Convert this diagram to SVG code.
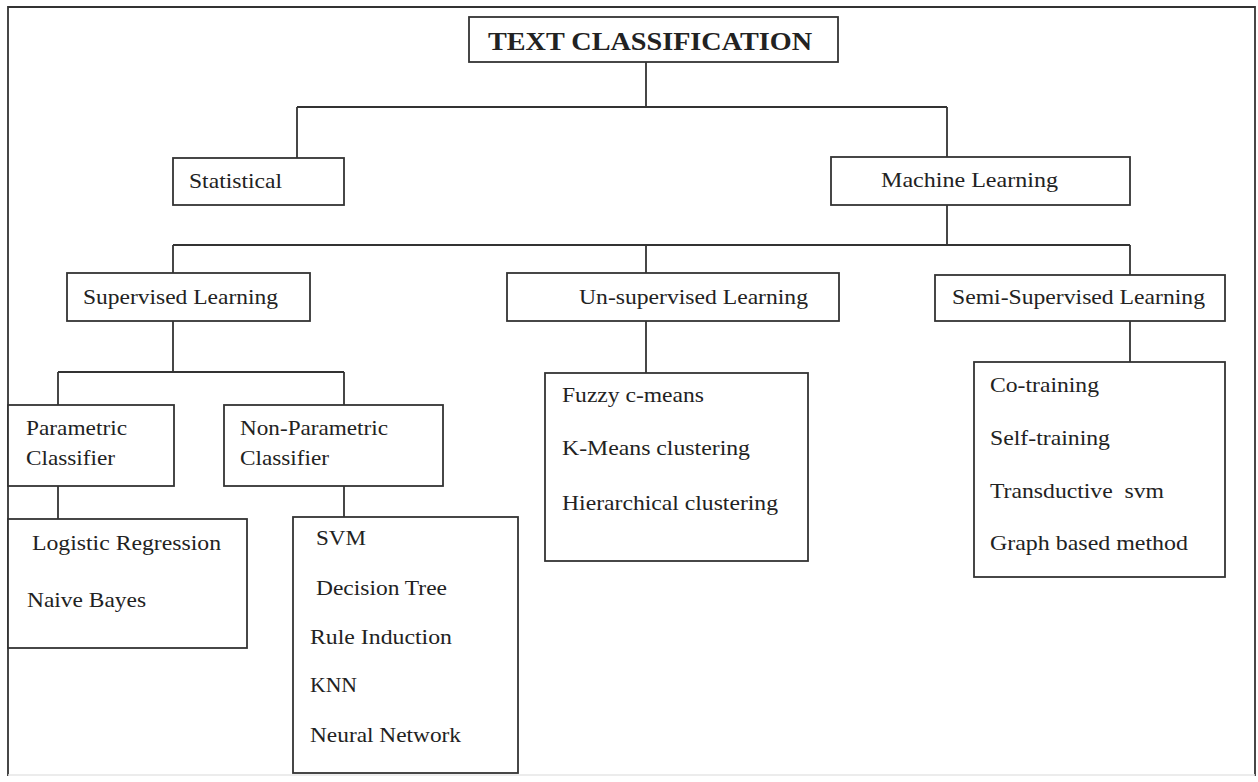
<svg xmlns="http://www.w3.org/2000/svg" width="1258" height="782" viewBox="0 0 1258 782">
<style>
.box{fill:#fff;stroke:#333;stroke-width:1.8}
.ln{fill:none;stroke:#333;stroke-width:1.8}
text{font-family:"Liberation Serif","Times New Roman",serif;font-size:22px;fill:#222}
.title{font-size:26px;font-weight:bold}
</style>
<rect x="0" y="0" width="1258" height="782" fill="#fff"/>
<path d="M8,776 L8,7 L1255,7 L1255,776" class="ln"/>
<line x1="8" y1="775" x2="1255" y2="775" stroke="#e6e6e6" stroke-width="1.5"/>
<g id="connectors">
<path class="ln" d="M646,62 V107 M297,107 H947 M297,107 V158 M947,107 V157"/>
<path class="ln" d="M947,205 V245 M173,245 H1130 M173,245 V273 M646,245 V273 M1130,245 V275"/>
<path class="ln" d="M173,321 V372 M58,372 H344 M58,372 V405 M344,372 V405"/>
<path class="ln" d="M58,486 V519 M344,486 V517"/>
<path class="ln" d="M646,321 V373 M1130,321 V362"/>
</g>
<g id="n-title"><rect class="box" x="469" y="17" width="369" height="45"/><text class="title" x="488" y="50" textLength="324" lengthAdjust="spacingAndGlyphs">TEXT CLASSIFICATION</text></g>
<g id="n-statistical"><rect class="box" x="173" y="158" width="171" height="47"/><text x="189" y="188" textLength="93" lengthAdjust="spacingAndGlyphs">Statistical</text></g>
<g id="n-ml"><rect class="box" x="831" y="157" width="299" height="48"/><text x="881" y="187" textLength="177" lengthAdjust="spacingAndGlyphs">Machine Learning</text></g>
<g id="n-supervised"><rect class="box" x="67" y="273" width="243" height="48"/><text x="83" y="304" textLength="195" lengthAdjust="spacingAndGlyphs">Supervised Learning</text></g>
<g id="n-unsupervised"><rect class="box" x="507" y="273" width="332" height="48"/><text x="579" y="304" textLength="229" lengthAdjust="spacingAndGlyphs">Un-supervised Learning</text></g>
<g id="n-semi"><rect class="box" x="935" y="275" width="290" height="46"/><text x="952" y="304" textLength="253" lengthAdjust="spacingAndGlyphs">Semi-Supervised Learning</text></g>
<g id="n-parametric"><rect class="box" x="8" y="405" width="166" height="81"/><text x="26" y="435" textLength="101" lengthAdjust="spacingAndGlyphs">Parametric</text><text x="26" y="465" textLength="89" lengthAdjust="spacingAndGlyphs">Classifier</text></g>
<g id="n-nonparametric"><rect class="box" x="224" y="405" width="219" height="81"/><text x="240" y="435" textLength="148" lengthAdjust="spacingAndGlyphs">Non-Parametric</text><text x="240" y="465" textLength="89" lengthAdjust="spacingAndGlyphs">Classifier</text></g>
<g id="n-param-methods"><rect class="box" x="8" y="519" width="239" height="129"/><text x="32" y="550" textLength="189" lengthAdjust="spacingAndGlyphs">Logistic Regression</text><text x="27" y="607" textLength="119" lengthAdjust="spacingAndGlyphs">Naive Bayes</text></g>
<g id="n-nonparam-methods"><rect class="box" x="293" y="517" width="225" height="256"/><text x="316" y="545" textLength="50" lengthAdjust="spacingAndGlyphs">SVM</text><text x="316" y="595" textLength="131" lengthAdjust="spacingAndGlyphs">Decision Tree</text><text x="310" y="644" textLength="142" lengthAdjust="spacingAndGlyphs">Rule Induction</text><text x="310" y="692" textLength="47" lengthAdjust="spacingAndGlyphs">KNN</text><text x="310" y="742" textLength="151" lengthAdjust="spacingAndGlyphs">Neural Network</text></g>
<g id="n-unsup-methods"><rect class="box" x="545" y="373" width="263" height="188"/><text x="562" y="402" textLength="142" lengthAdjust="spacingAndGlyphs">Fuzzy c-means</text><text x="562" y="455" textLength="188" lengthAdjust="spacingAndGlyphs">K-Means clustering</text><text x="562" y="510" textLength="216" lengthAdjust="spacingAndGlyphs">Hierarchical clustering</text></g>
<g id="n-semi-methods"><rect class="box" x="974" y="362" width="251" height="215"/><text x="990" y="392" textLength="109" lengthAdjust="spacingAndGlyphs">Co-training</text><text x="990" y="445" textLength="120" lengthAdjust="spacingAndGlyphs">Self-training</text><text x="990" y="498" textLength="174" lengthAdjust="spacingAndGlyphs" xml:space="preserve">Transductive  svm</text><text x="990" y="550" textLength="198" lengthAdjust="spacingAndGlyphs">Graph based method</text></g>
</svg>
